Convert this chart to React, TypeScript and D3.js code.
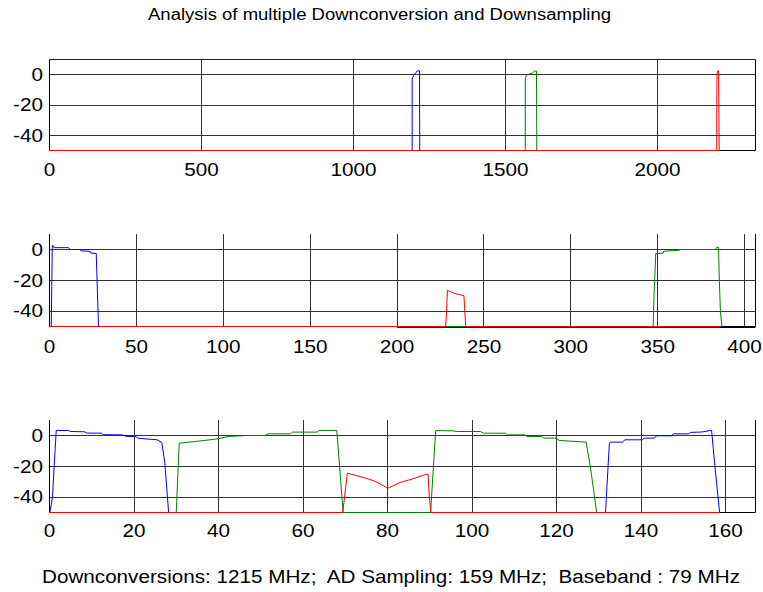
import React from "react";
import * as d3 from "d3";

// ---------- data ----------
const yTicks = [0, -20, -40];
const xTicks1 = [0, 500, 1000, 1500, 2000];
const xTicks2 = [0, 50, 100, 150, 200, 250, 300, 350, 400];
const xTicks3 = [0, 20, 40, 60, 80, 100, 120, 140, 160];
const xMax1 = 2322.4;
const xMax2 = 406.3;
const xMax3 = 167.1;

// panel 1: full spectrum (MHz, dB)
const blue1: [number, number][] = [
  [0, -50], [1193, -50], [1193, -3], [1195, -2], [1198, -0.5], [1202, 0.5], [1206, 1.5], [1210, 2.5], [1217, 2.5], [1218, -50], [2204, -50],
];
const green1: [number, number][] = [
  [0, -50], [1565, -50], [1565, -2.5], [1568, -1], [1572, 0], [1588, 1], [1595, 2.3], [1602, 2.3], [1603, -50], [2206, -50],
];
const red1: [number, number][] = [
  [0, -50], [2195, -50], [2195, -27], [2196, 1], [2198, 2.5], [2201, 2.5], [2203, -50], [2204, -50],
];

// panel 2: after first downsampling
const blue2: [number, number][] = [
  [0, -50], [1.0, -50], [1.3, -24], [1.6, 2.5], [2.2, 2.5], [2.6, 1.2], [10.9, 1.2], [11.9, 0], [17.3, 0], [18.2, -0.8], [23.4, -1.2], [23.8, -2.3], [26.9, -2.6], [27.2, -14], [27.8, -35], [28.2, -50], [387, -50],
];
const green2: [number, number][] = [
  [0, -50], [347.4, -50], [347.9, -30], [348.9, -2.6], [353.2, -2.4], [353.5, -1.1], [362.5, -0.5], [362.8, 0], [383.2, 0], [384, 1.5], [385, 1.5], [385.5, -20], [386.1, -40], [387, -50],
];
const red2: [number, number][] = [
  [0, -50], [228, -50], [228.5, -40], [229, -26.5], [231, -27.5], [233, -28.5], [236.5, -29.5], [238.5, -30], [239, -40], [239.5, -50], [386, -50],
];

// panel 3: baseband
const blue3: [number, number][] = [
  [0, -50], [0.1, -50], [0.7, -40], [1.1, -20], [1.6, 3.3], [4.5, 3.2], [5, 2.6], [8.3, 2.4], [8.8, 1.6], [12.3, 1.5], [12.8, 0.5], [17.3, 0.4], [18, -0.5], [20.5, -0.8], [21, -1.8], [25.5, -2.8], [26.6, -4.6], [27.3, -18], [28.2, -50],
  [131.6, -50], [132.5, -5.4], [132.7, -4.3], [135.6, -4.3], [136.2, -2.8], [140.3, -2.8], [140.8, -1.7], [143.2, -1.7], [143.7, -0.2], [147.2, -0.2], [147.7, 1.1], [151.3, 1.1], [151.7, 2.0], [154.5, 2.3], [156.7, 3.4], [157.5, -20], [158.6, -50],
];
const green3: [number, number][] = [
  [0, -50], [30, -50], [30.7, -5], [34.4, -3.9], [36.7, -3.2], [39.2, -2.4], [42.5, -0.6], [46.5, 0], [51, 0], [51.7, 1.1], [57, 1.1], [57.5, 2.2], [63.3, 2.2], [63.8, 3.2], [68, 3.2], [69.5, -50],
  [90.2, -50], [91.4, 3.2], [95.7, 3.0], [96.3, 2.6], [102, 2.6], [102.7, 1.5], [107.9, 1.5], [108.4, 0.4], [112.5, 0.4], [113, -0.6], [116.5, -0.6], [117, -1.7], [120, -1.7], [120.6, -3.2], [127, -4.3], [128, -20], [129.5, -50], [158.6, -50],
];
const red3: [number, number][] = [
  [0, -50], [69.4, -50], [70.5, -24.5], [72.6, -26], [74.9, -27.7], [77.2, -29.9], [80.1, -34.2], [83, -30.5], [86.5, -27.7], [88.8, -25.5], [89.6, -25], [89.9, -40], [90.3, -50], [158.6, -50],
];

const title = "Analysis of multiple Downconversion and Downsampling";
const caption = "Downconversions: 1215 MHz;  AD Sampling: 159 MHz;  Baseband : 79 MHz";

// ---------- layout ----------
const W = 763;
const H = 592;
const LEFT = 49.5;
const RIGHT = 755.5;
const FONT = "'Liberation Sans', Arial, Helvetica, sans-serif";
const GRID = "#333";

type Series = { data: [number, number][]; color: string };

interface PanelProps {
  top: number;
  bottom: number;
  xMax: number;
  xTicks: number[];
  series: Series[];
  topBorder: boolean;
  labelBaseline: number;
  extraBottomFrom?: number;
}

function Panel({ top, bottom, xMax, xTicks, series, topBorder, labelBaseline, extraBottomFrom }: PanelProps) {
  const x = d3.scaleLinear().domain([0, xMax]).range([LEFT, RIGHT]);
  const y = d3.scaleLinear().domain([-50, 10]).range([bottom, top]);
  const line = d3
    .line<[number, number]>()
    .x((d) => x(d[0]))
    .y((d) => y(d[1]));
  return (
    <g>
      {yTicks.map((t) => (
        <line key={"h" + t} x1={LEFT} x2={RIGHT} y1={Math.round(y(t) - 0.5) + 0.5} y2={Math.round(y(t) - 0.5) + 0.5} stroke={GRID} strokeWidth={1} />
      ))}
      {xTicks.map((t) => (
        <line key={"v" + t} x1={Math.round(x(t) - 0.5) + 0.5} x2={Math.round(x(t) - 0.5) + 0.5} y1={top} y2={bottom} stroke={GRID} strokeWidth={1} />
      ))}
      <line x1={LEFT} x2={LEFT} y1={top} y2={bottom} stroke="#000" />
      <line x1={RIGHT} x2={RIGHT} y1={top} y2={bottom} stroke="#000" />
      <line x1={LEFT} x2={RIGHT} y1={bottom} y2={bottom} stroke="#000" />
      {topBorder && <line x1={LEFT} x2={RIGHT} y1={top} y2={top} stroke="#222" />}
      {extraBottomFrom !== undefined && (
        <line x1={x(extraBottomFrom)} x2={RIGHT} y1={bottom + 1} y2={bottom + 1} stroke="#000" />
      )}
      {series.map((s, i) => (
        <path key={i} d={line(s.data) || ""} fill="none" stroke={s.color} strokeWidth={1} />
      ))}
      {yTicks.map((t) => (
        <text
          key={"yl" + t}
          transform={`translate(43,${y(t) + 6.3}) scale(1.15,1)`}
          textAnchor="end"
          fontSize={18}
          fontFamily={FONT}
          fill="#000"
        >
          {t}
        </text>
      ))}
      {xTicks.map((t) => (
        <text
          key={"xl" + t}
          transform={`translate(${x(t)},${labelBaseline}) scale(1.15,1)`}
          textAnchor="middle"
          fontSize={18}
          fontFamily={FONT}
          fill="#000"
        >
          {t}
        </text>
      ))}
    </g>
  );
}

export default function App() {
  return (
    <svg
      width={W}
      height={H}
      viewBox={`0 0 ${W} ${H}`}
      style={{ position: "absolute", left: 0, top: 0, background: "#fff", display: "block" }}
    >
      <rect x={0} y={0} width={W} height={H} fill="#fff" />
      <text x={379.5} y={20} textAnchor="middle" fontSize={16} fontFamily={FONT} textLength={463} lengthAdjust="spacingAndGlyphs">
        {title}
      </text>
      <Panel
        top={59.5}
        bottom={150.5}
        xMax={xMax1}
        xTicks={xTicks1}
        series={[
          { data: blue1, color: "#0000ff" },
          { data: green1, color: "#008000" },
          { data: red1, color: "#ff0000" },
        ]}
        topBorder={true}
        labelBaseline={176}
      />
      <Panel
        top={234.1}
        bottom={326.5}
        xMax={xMax2}
        xTicks={xTicks2}
        series={[
          { data: blue2, color: "#0000ff" },
          { data: green2, color: "#008000" },
          { data: red2, color: "#ff0000" },
        ]}
        topBorder={false}
        labelBaseline={352.5}
        extraBottomFrom={200}
      />
      <Panel
        top={420.1}
        bottom={512.5}
        xMax={xMax3}
        xTicks={xTicks3}
        series={[
          { data: blue3, color: "#0000ff" },
          { data: green3, color: "#008000" },
          { data: red3, color: "#ff0000" },
        ]}
        topBorder={false}
        labelBaseline={536.5}
      />
      <text
        x={391}
        y={583}
        textAnchor="middle"
        fontSize={18}
        fontFamily={FONT}
        textLength={698}
        lengthAdjust="spacingAndGlyphs"
        style={{ whiteSpace: "pre" }}
        xmlSpace="preserve"
      >
        {caption}
      </text>
    </svg>
  );
}
